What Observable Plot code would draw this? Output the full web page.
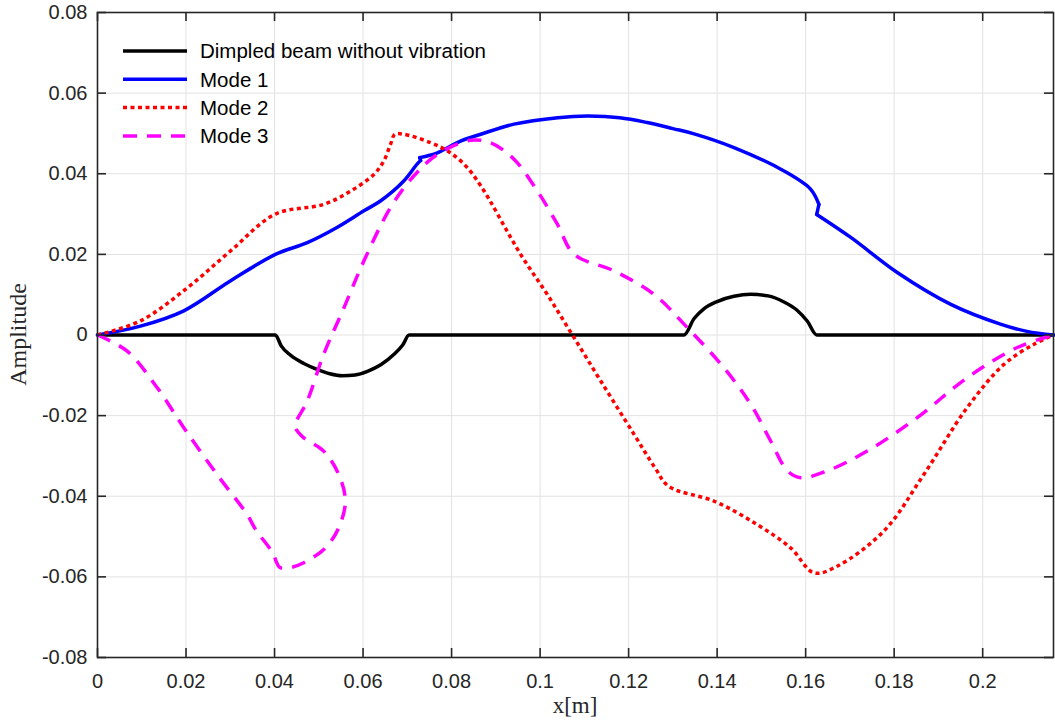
<!DOCTYPE html>
<html>
<head>
<meta charset="utf-8">
<script src="https://cdn.jsdelivr.net/npm/d3@7"></script>
<script src="https://cdn.jsdelivr.net/npm/@observablehq/plot@0.6"></script>
<style>
  html, body { margin: 0; padding: 0; background: #fff; }
  #chart { width: 1055px; height: 723px; }
</style>
</head>
<body>
<div id="chart"></div>
<script>
// ---- Tick values and labels ----
const xTicks = [0, 0.02, 0.04, 0.06, 0.08, 0.1, 0.12, 0.14, 0.16, 0.18, 0.2];
const xTickLabels = ["0", "0.02", "0.04", "0.06", "0.08", "0.1", "0.12", "0.14", "0.16", "0.18", "0.2"];
const yTicks = [-0.08, -0.06, -0.04, -0.02, 0, 0.02, 0.04, 0.06, 0.08];
const yTickLabels = ["-0.08", "-0.06", "-0.04", "-0.02", "0", "0.02", "0.04", "0.06", "0.08"];

const seriesNames = ["Dimpled beam without vibration", "Mode 1", "Mode 2", "Mode 3"];

// ---- Dimpled beam (no vibration) ----
const beamX = [0, 0.0402, 0.0415, 0.0436, 0.0465, 0.0496, 0.0525, 0.0553, 0.0582, 0.0610, 0.0640, 0.0670, 0.0690, 0.0704,
               0.1325, 0.1348, 0.1370, 0.1400, 0.1438, 0.1476, 0.1515, 0.1551, 0.1580, 0.1604, 0.1625, 0.2160];
const beamY = [0, 0, -0.0027, -0.0050, -0.0070, -0.0085, -0.0096, -0.0101, -0.0099, -0.0090, -0.0074, -0.0048, -0.0024, 0,
               0, 0.0041, 0.0065, 0.0083, 0.0096, 0.0101, 0.0097, 0.0082, 0.0062, 0.0034, 0, 0];

// ---- Mode 1 ----
const mode1X = [0, 0.0097, 0.0195, 0.0300, 0.0402, 0.0474, 0.0540, 0.0602, 0.0640, 0.0692, 0.0722, 0.0730, 0.0728, 0.0768,
                0.0820, 0.0866, 0.0941, 0.1040, 0.1107, 0.1180, 0.1242, 0.1300, 0.1348, 0.1438, 0.1551, 0.1611, 0.1630,
                0.1625, 0.1702, 0.1807, 0.1928, 0.2040, 0.2100, 0.2160];
const mode1Y = [0, 0.0022, 0.0060, 0.0134, 0.0200, 0.0229, 0.0266, 0.0308, 0.0333, 0.0382, 0.0424, 0.0433, 0.0440, 0.0452,
                0.0481, 0.0498, 0.0523, 0.0539, 0.0543, 0.0539, 0.0527, 0.0512, 0.0499, 0.0465, 0.0407, 0.0362, 0.0324,
                0.0299, 0.0242, 0.0155, 0.0076, 0.0027, 0.0009, 0];

// ---- Mode 2 ----
const mode2X = [0, 0.0097, 0.0203, 0.0300, 0.0402, 0.0511, 0.0572, 0.0625, 0.0647, 0.0662, 0.0672, 0.0692, 0.0753, 0.0790,
                0.0828, 0.0866, 0.0956, 0.1016, 0.1073, 0.1137, 0.1212, 0.1260, 0.1290, 0.1395, 0.1490, 0.1566, 0.1619,
                0.1672, 0.1777, 0.1867, 0.1965, 0.2048, 0.2116, 0.2160];
const mode2Y = [0, 0.0035, 0.0117, 0.0208, 0.0300, 0.0324, 0.0357, 0.0399, 0.0432, 0.0473, 0.0498, 0.0498, 0.0477, 0.0457,
                0.0424, 0.0370, 0.0200, 0.0101, 0.0000, -0.0114, -0.0246, -0.0330, -0.0375, -0.0413, -0.0470, -0.0528, -0.0590,
                -0.0573, -0.0486, -0.0346, -0.0180, -0.0073, -0.0023, 0];

// ---- Mode 3 ----
const mode3X = [0, 0.0067, 0.0135, 0.0195, 0.0270, 0.0338, 0.0357, 0.0398, 0.0403, 0.0412, 0.0435, 0.0466, 0.0515, 0.0545,
                0.0560, 0.0545, 0.0511, 0.0462, 0.0447, 0.0474, 0.0511, 0.0557, 0.0602, 0.0662, 0.0715, 0.0768, 0.0843,
                0.0888, 0.0941, 0.0994, 0.1039, 0.1077, 0.1167, 0.1257, 0.1333, 0.1415, 0.1476, 0.1521, 0.1559, 0.1589,
                0.1649, 0.1739, 0.1852, 0.1965, 0.2078, 0.2160];
const mode3Y = [0, -0.0040, -0.0131, -0.0230, -0.0346, -0.0445, -0.0482, -0.0544, -0.0560, -0.0577, -0.0577, -0.0565, -0.0528, -0.0478,
                -0.0412, -0.0346, -0.0288, -0.0251, -0.0226, -0.0164, -0.0048, 0.0068, 0.0184, 0.0316, 0.0395, 0.0448, 0.0483,
                0.0477, 0.0436, 0.0357, 0.0275, 0.0200, 0.0159, 0.0101, 0.0018, -0.0081, -0.0172, -0.0263, -0.0337, -0.0354,
                -0.0337, -0.0288, -0.0205, -0.0106, -0.0031, 0];

// ---- Styling per series ----
const seriesStyle = [
  {color: "#000000", dash: null, curve: "monotone-x", cap: "round"},
  {color: "#0000ff", dash: null, curve: "catmull-rom", cap: "round"},
  {color: "#ff0000", dash: "4,3.5", curve: "catmull-rom", cap: "butt"},
  {color: "#ff00ff", dash: "14,10", curve: "catmull-rom", cap: "butt"}
];

const toRows = (xs, ys) => xs.map((x, i) => ({x, y: ys[i], seg: 0}));
// Mode 1 has two small backward hooks: draw it as pieces split where x reverses direction
function splitOnReversal(xs, ys) {
  const rows = [];
  let seg = 0;
  for (let i = 0; i < xs.length; i++) {
    rows.push({x: xs[i], y: ys[i], seg});
    if (i > 0 && i < xs.length - 1) {
      const d0 = Math.sign(xs[i] - xs[i - 1]), d1 = Math.sign(xs[i + 1] - xs[i]);
      if (d0 !== d1) { seg++; rows.push({x: xs[i], y: ys[i], seg}); }
    }
  }
  return rows;
}
const series = [toRows(beamX, beamY), splitOnReversal(mode1X, mode1Y), toRows(mode2X, mode2Y), toRows(mode3X, mode3Y)];

const W = 1055, H = 723;
const mt = 12, mr = 2, mb = 66, ml = 97;
const innerW = W - ml - mr, innerH = H - mt - mb;
const tickLen = 9;
const axisColor = "#262626";
const lw = 3.5;

const xLab = new Map(xTicks.map((t, i) => [t, xTickLabels[i]]));
const yLab = new Map(yTicks.map((t, i) => [t, yTickLabels[i]]));

const lineMarks = series.map((rows, k) => Plot.line(rows, {
  x: "x", y: "y", z: "seg",
  stroke: seriesStyle[k].color,
  strokeWidth: lw,
  strokeDasharray: seriesStyle[k].dash,
  strokeLinecap: seriesStyle[k].cap,
  strokeLinejoin: "round",
  curve: seriesStyle[k].curve
}));

const chart = Plot.plot({
  width: W, height: H,
  marginTop: mt, marginRight: mr, marginBottom: mb, marginLeft: ml,
  style: {fontFamily: "'Liberation Sans', Arial, Helvetica, sans-serif", fontSize: "20px", color: axisColor, background: "#fff", overflow: "visible"},
  x: {domain: [0, 0.216]},
  y: {domain: [-0.08, 0.08]},
  marks: [
    Plot.gridX(xTicks, {stroke: "#e2e2e2", strokeOpacity: 1, strokeWidth: 1}),
    Plot.gridY(yTicks, {stroke: "#e2e2e2", strokeOpacity: 1, strokeWidth: 1}),
    ...lineMarks,
    Plot.frame({stroke: axisColor, strokeWidth: 1.6}),
    Plot.tickX(xTicks, {x: d => d, insetTop: innerH - tickLen, stroke: axisColor, strokeWidth: 1.6}),
    Plot.tickX(xTicks, {x: d => d, insetBottom: innerH - tickLen, stroke: axisColor, strokeWidth: 1.6}),
    Plot.tickY(yTicks, {y: d => d, insetRight: innerW - tickLen, stroke: axisColor, strokeWidth: 1.6}),
    Plot.tickY(yTicks, {y: d => d, insetLeft: innerW - tickLen, stroke: axisColor, strokeWidth: 1.6}),
    Plot.axisX(xTicks, {anchor: "bottom", tickSize: 0, tickPadding: 16, tickFormat: d => xLab.get(d), label: null, fontSize: 20}),
    Plot.axisY(yTicks, {anchor: "left", tickSize: 0, tickPadding: 10, tickFormat: d => yLab.get(d), label: null, fontSize: 20})
  ]
});

document.getElementById("chart").appendChild(chart);

// ---- Axis titles (serif, LaTeX-like) ----
const svg = d3.select(chart);
svg.append("text")
  .attr("x", ml + innerW / 2).attr("y", 713)
  .attr("text-anchor", "middle")
  .attr("font-family", "'Liberation Serif', 'DejaVu Serif', serif")
  .attr("font-size", 23).attr("fill", axisColor)
  .text("x[m]");
svg.append("text")
  .attr("transform", `translate(26,${mt + innerH / 2}) rotate(-90)`)
  .attr("text-anchor", "middle")
  .attr("font-family", "'Liberation Serif', 'DejaVu Serif', serif")
  .attr("font-size", 24).attr("fill", axisColor)
  .text("Amplitude");

// ---- Legend (inside plot, top-left, no box) ----
const leg = svg.append("g");
seriesNames.forEach((name, k) => {
  const yy = 51 + k * 28.3;
  leg.append("line")
    .attr("x1", 123).attr("x2", 187).attr("y1", yy).attr("y2", yy)
    .attr("stroke", seriesStyle[k].color).attr("stroke-width", lw)
    .attr("stroke-dasharray", seriesStyle[k].dash);
  leg.append("text")
    .attr("x", 200).attr("y", yy).attr("dy", "0.36em")
    .attr("text-anchor", "start")
    .attr("font-family", "'Liberation Sans', Arial, sans-serif")
    .attr("font-size", 20.5).attr("fill", "#000")
    .text(name);
});
</script>
</body>
</html>
